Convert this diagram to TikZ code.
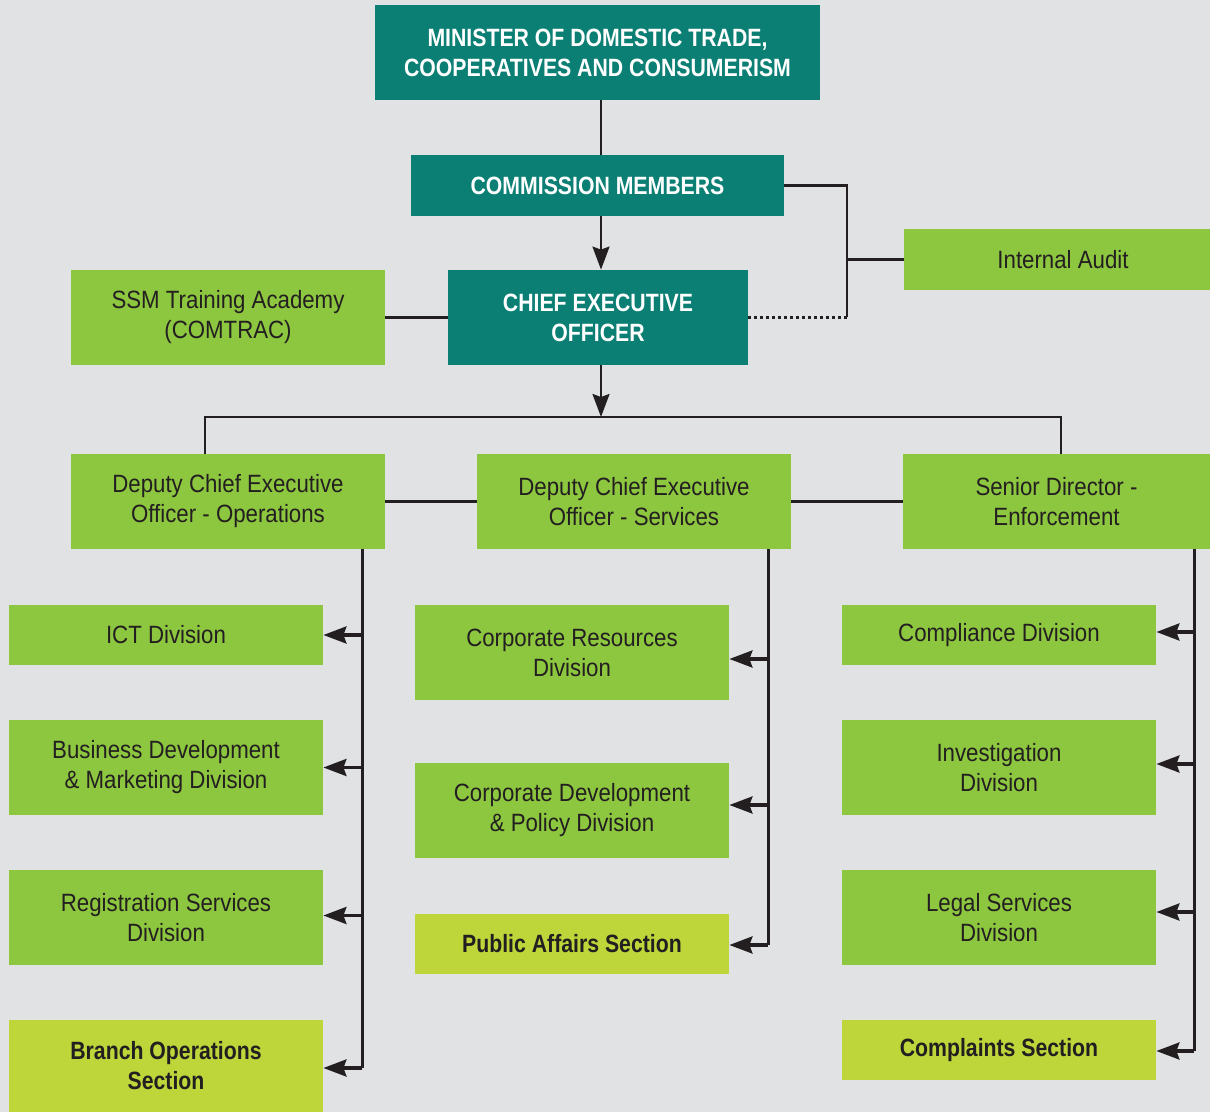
\documentclass[tikz,border=0pt]{standalone}
\usepackage{fontspec}
\setmainfont{Liberation Sans}[FakeStretch=0.89, BoldFeatures={FakeStretch=0.85}]
\usetikzlibrary{arrows.meta,calc}
\definecolor{bg}{HTML}{E1E2E4}
\definecolor{teal}{HTML}{0B7F74}
\definecolor{grn}{HTML}{8DC63F}
\definecolor{lime}{HTML}{BED63A}
\definecolor{ink}{HTML}{231F20}
\begin{document}
\begin{tikzpicture}[x=0.5pt,y=-0.5pt,
  basebox/.style={inner sep=0pt, align=center, font=\fontsize{12.5}{15}\selectfont, minimum width=157pt},
  tealbox/.style={basebox, fill=teal, text=white, font=\fontsize{12.5}{15}\selectfont\bfseries},
  grnbox/.style={basebox, fill=grn, text=ink},
  limebox/.style={basebox, fill=lime, text=ink, font=\fontsize{12.5}{15}\selectfont\bfseries},
  tall/.style={minimum height=47.5pt},
  short/.style={minimum height=30pt},
  conn/.style={draw=ink, line width=1.1pt},
  arr/.style={conn, -{Stealth[length=11.5pt, width=8.5pt, inset=1.5pt]}},
  barr/.style={arr, line width=1.7pt}
]
\fill[bg] (0,0) rectangle (1210,1112);
\useasboundingbox (0,0) rectangle (1210,1112);

% top
\node[tealbox, minimum width=222.5pt, tall] (minister) at (597.5,52.5) {MINISTER OF DOMESTIC TRADE,\\COOPERATIVES AND CONSUMERISM};
\node[tealbox, minimum width=186.5pt, minimum height=30.5pt] (comm) at (597.5,185.5) {COMMISSION MEMBERS};
\node[tealbox, minimum width=150pt, tall] (ceo) at (598,317.5) {CHIEF EXECUTIVE\\OFFICER};
\node[grnbox, tall] (ssm) at (228,317.5) {SSM Training Academy\\(COMTRAC)};
\node[grnbox, minimum width=153pt, minimum height=30.5pt] (audit) at (1057,259.5) {\hspace*{6pt}Internal Audit};

% second level
\node[grnbox, tall] (dops) at (228,501.5) {Deputy Chief Executive\\Officer - Operations};
\node[grnbox, tall] (dserv) at (634,501.5) {Deputy Chief Executive\\Officer - Services};
\node[grnbox, tall, minimum width=153.5pt] (sdir) at (1056.5,501.5) {Senior Director -\\Enforcement};

% left column
\node[grnbox, short] (ict) at (166,635) {ICT Division};
\node[grnbox, tall] (biz) at (166,767.5) {Business Development\\\& Marketing Division};
\node[grnbox, tall] (reg) at (166,917.5) {Registration Services\\Division};
\node[limebox, minimum height=46pt] (branch) at (166,1066) {Branch Operations\\Section};

% middle column
\node[grnbox, tall] (cres) at (572,652.5) {Corporate Resources\\Division};
\node[grnbox, tall] (cdev) at (572,810.5) {Corporate Development\\\& Policy Division};
\node[limebox, short] (pub) at (572,944) {Public Affairs Section};

% right column
\node[grnbox, short] (comp) at (999,635) {Compliance Division};
\node[grnbox, tall] (inv) at (999,767.5) {Investigation\\Division};
\node[grnbox, tall] (legal) at (999,917.5) {Legal Services\\Division};
\node[limebox, short] (cmpl) at (999,1050) {Complaints Section};

% connectors top
\coordinate (spine) at (601,0);
\coordinate (jx) at (847,0);
\coordinate (bus) at (601,417);
\draw[conn] (minister.south -| spine) -- (comm.north -| spine);
\draw[arr] (comm.south -| spine) -- (ceo.north -| spine);
\draw[conn] (comm.east) -| (jx |- ceo.east);
\draw[draw=ink, line width=1.1pt, dash pattern=on 1.5pt off 1.5pt] (ceo.east) -- (jx |- ceo.east);
\draw[conn] (audit.west) -- (jx |- audit.west);
\draw[conn] (ssm) -- (ceo);
\draw[arr] (ceo.south -| spine) -- (bus);
\draw[conn] ($(dops.north)+(-23,0)$) |- (bus) -| ($(sdir.north)+(4.5,0)$);
\draw[conn] (dops) -- (dserv);
\draw[conn] (dserv) -- (sdir);

% left column connectors
\coordinate (lx) at ($(dops.south east)+(-23,0)$);
\draw[conn] (lx) -- ($(lx |- branch.east)+(0,2)$);
\draw[barr] (lx |- ict.east) -- (ict.east);
\draw[barr] (lx |- biz.east) -- (biz.east);
\draw[barr] ($(lx |- reg.east)+(0,-2)$) -- ($(reg.east)+(0,-2)$);
\draw[barr] ($(lx |- branch.east)+(0,2)$) -- ($(branch.east)+(0,2)$);

% middle column connectors
\coordinate (mx) at ($(dserv.south east)+(-23,0)$);
\draw[conn] (mx) -- ($(mx |- pub.east)+(0,1)$);
\draw[barr] ($(mx |- cres.east)+(0,6.5)$) -- ($(cres.east)+(0,6.5)$);
\draw[barr] ($(mx |- cdev.east)+(0,-5.5)$) -- ($(cdev.east)+(0,-5.5)$);
\draw[barr] ($(mx |- pub.east)+(0,1)$) -- ($(pub.east)+(0,1)$);

% right column connectors
\coordinate (rx) at ($(sdir.south east)+(-16,0)$);
\draw[conn] (rx) -- ($(rx |- cmpl.east)+(0,1)$);
\draw[barr] ($(rx |- comp.east)+(0,-3)$) -- ($(comp.east)+(0,-3)$);
\draw[barr] ($(rx |- inv.east)+(0,-3.5)$) -- ($(inv.east)+(0,-3.5)$);
\draw[barr] ($(rx |- legal.east)+(0,-5.5)$) -- ($(legal.east)+(0,-5.5)$);
\draw[barr] ($(rx |- cmpl.east)+(0,1)$) -- ($(cmpl.east)+(0,1)$);
\end{tikzpicture}
\end{document}
